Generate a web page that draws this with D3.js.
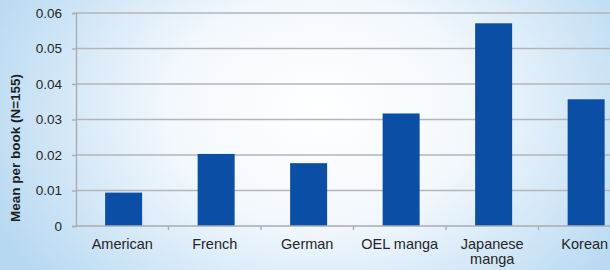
<!DOCTYPE html>
<html><head><meta charset="utf-8">
<script src="https://cdn.jsdelivr.net/npm/d3@7"></script>
<style>html,body{margin:0;padding:0;overflow:hidden;}svg{display:block;}</style>
</head><body>
<script>
const categories = ["American", "French", "German", "OEL manga", "Japanese manga", "Korean"];
const values = [0.0094, 0.0203, 0.0177, 0.0317, 0.0571, 0.0357];
const yTicks = [0, 0.01, 0.02, 0.03, 0.04, 0.05, 0.06];
const yTitle = "Mean per book (N=155)";

(function () {
const W = 610, H = 270;
const FONT = "Liberation Sans, Arial, sans-serif";
const svg = d3.select("body").append("svg").attr("width", W).attr("height", H);
const defs = svg.append("defs");
const g = defs.append("radialGradient").attr("id", "bg")
  .attr("gradientUnits", "userSpaceOnUse").attr("cx", 320).attr("cy", 110).attr("r", 360)
  .attr("gradientTransform", "translate(320,110) scale(1,0.75) translate(-320,-110)");
g.append("stop").attr("offset", "0").attr("stop-color", "#ffffff");
g.append("stop").attr("offset", "0.42").attr("stop-color", "#f3f8fd");
g.append("stop").attr("offset", "1").attr("stop-color", "#b6d8f1");
svg.append("rect").attr("width", W).attr("height", H).attr("fill", "url(#bg)");

const mLeft = 76, mRight = 631, mTop = 13, mBottom = 226;
const x = d3.scaleBand().domain(categories).range([mLeft, mRight]).padding(0);
const y = d3.scaleLinear().domain([0, 0.06]).range([mBottom, mTop]);

svg.append("g").selectAll("line").data(yTicks.slice(1)).join("line")
  .attr("x1", mLeft).attr("x2", W).attr("y1", d => y(d)).attr("y2", d => y(d))
  .attr("stroke", "#b2b6ba").attr("stroke-width", 1.6);

const bw = x.bandwidth() * 0.4;
svg.append("g").selectAll("rect").data(categories).join("rect")
  .attr("x", d => x(d) + x.bandwidth() * 0.315)
  .attr("width", bw)
  .attr("y", (d, i) => y(values[i]))
  .attr("height", (d, i) => y(0) - y(values[i]))
  .attr("fill", "#0a4fa5");

const ya = svg.append("g").attr("transform", `translate(${mLeft},0)`)
  .call(d3.axisLeft(y).tickValues(yTicks).tickFormat(d => d === 0 ? "0" : d3.format(".2f")(d)).tickSizeOuter(0).tickSize(4).tickPadding(10));
ya.select(".domain").attr("stroke", "#a9adb1").attr("stroke-width", 1.4);
ya.selectAll(".tick line").attr("stroke", "#a9adb1").attr("stroke-width", 1.4);
ya.selectAll("text").attr("font-family", FONT).attr("font-size", 13.5).attr("fill", "#262626");

const xa = svg.append("g").attr("transform", `translate(0,${mBottom})`);
xa.append("line").attr("x1", mLeft).attr("x2", W).attr("stroke", "#a9adb1").attr("stroke-width", 1.4);
xa.selectAll("line.tk").data(categories.slice(1)).join("line").attr("class", "tk")
  .attr("x1", d => x(d)).attr("x2", d => x(d)).attr("y1", 0).attr("y2", 4)
  .attr("stroke", "#a9adb1").attr("stroke-width", 1.4);
const labels = xa.selectAll("text").data(categories).join("text")
  .attr("x", d => x(d) + x.bandwidth() / 2)
  .attr("y", 22.5)
  .attr("text-anchor", "middle")
  .attr("font-family", FONT)
  .attr("font-size", 14.5).attr("fill", "#262626");
labels.each(function(d) {
  const t = d3.select(this);
  const words = d === "Japanese manga" ? ["Japanese", "manga"] : [d];
  words.forEach((w, i) => t.append("tspan").attr("x", x(d) + x.bandwidth() / 2).attr("dy", i === 0 ? 0 : 15.5).text(w));
});

svg.append("text")
  .attr("transform", "translate(20,148) rotate(-90)")
  .attr("text-anchor", "middle")
  .attr("font-family", FONT)
  .attr("font-weight", "bold").attr("font-size", 13.5).attr("fill", "#1e1e1e")
  .text(yTitle);
})();
</script>
</body></html>
